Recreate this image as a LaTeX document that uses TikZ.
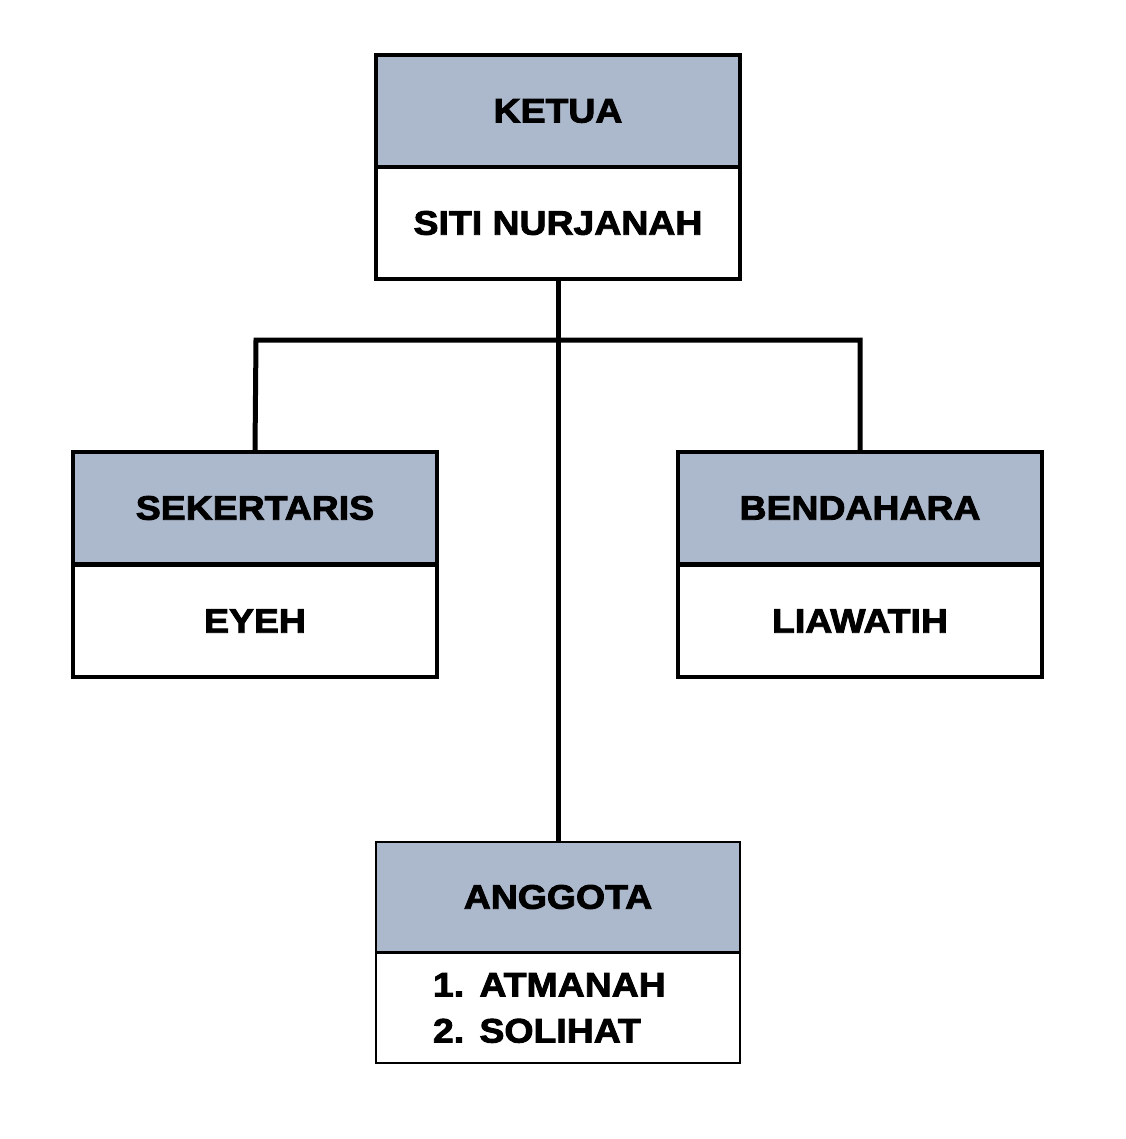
\documentclass[tikz,border=0pt]{standalone}
\usepackage{fontspec}
\setmainfont{Liberation Sans}
\newfontfamily\tebal{Liberation Sans Bold}[FakeBold=2.6, FakeStretch=1.1]
\definecolor{headblue}{HTML}{ACB8CB}
\begin{document}
\begin{tikzpicture}[x=1pt,y=-1pt,
  head/.style={draw=black, line width=4pt, fill=headblue, minimum width=364pt, minimum height=112pt, inner sep=0pt, font=\fontsize{34}{46}\tebal},
  nama/.style={draw=black, line width=4pt, fill=white, minimum width=364pt, minimum height=112pt, inner sep=0pt, font=\fontsize{34}{46}\tebal},
  garis/.style={line width=5pt}]
  \useasboundingbox (0,0) rectangle (1125,1139);
  \coordinate (JL) at (256,340);
  \coordinate (JR) at (860,340);
  \node[head] (ketua) at (558,111) {KETUA};
  \node[nama] (ketuaN) at (558,223) {SITI NURJANAH};
  \node[head] (sek) at (255,508) {SEKERTARIS};
  \node[nama] (sekN) at (255,621) {EYEH};
  \node[head] (ben) at (860,508) {BENDAHARA};
  \node[nama] (benN) at (860,621) {LIAWATIH};
  \node[head, line width=2pt, minimum height=110pt] (ang) at (558,897) {ANGGOTA};
  \node[nama, line width=2pt, minimum height=110pt, text width=250pt, align=left] (angN) at (558,1008) {1.\hspace{0.45em}ATMANAH\\2.\hspace{0.45em}SOLIHAT};
  \draw[garis] (ketuaN.south) -- (ang.north);
  \draw[garis] (sek.north) -- (JL) -- (JR) -- (ben.north);
\end{tikzpicture}
\end{document}
